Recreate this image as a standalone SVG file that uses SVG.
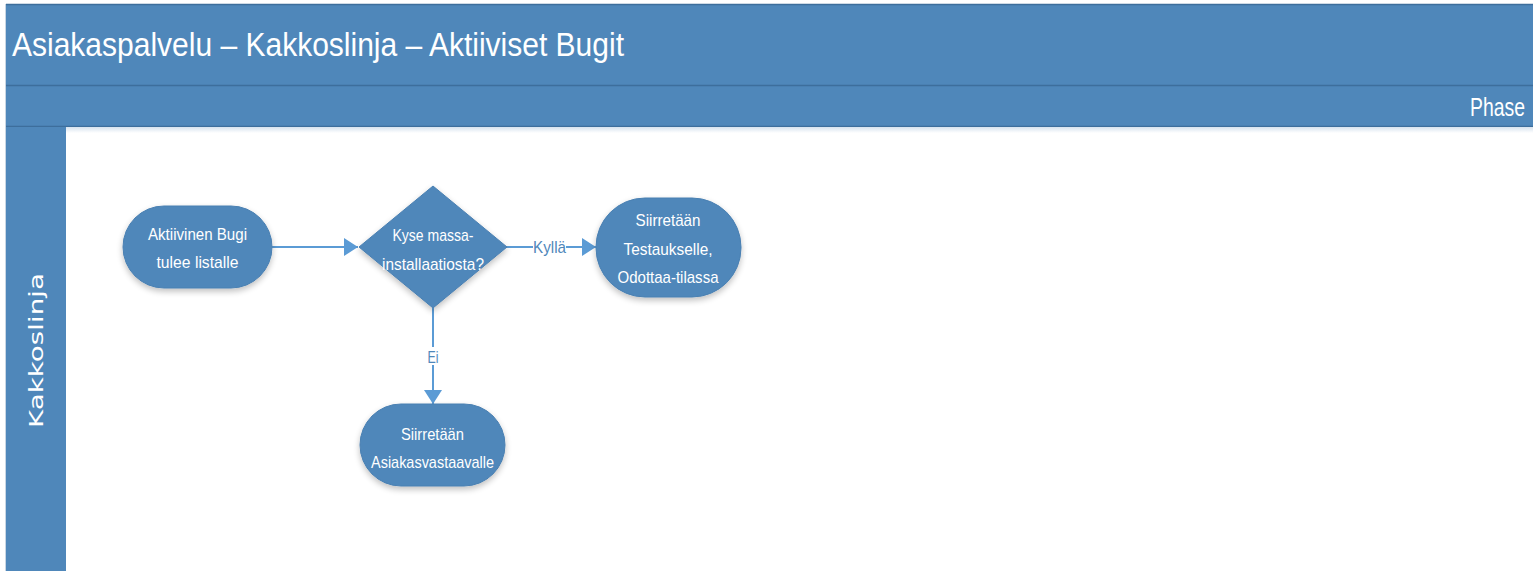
<svg xmlns="http://www.w3.org/2000/svg" width="1533" height="571" viewBox="0 0 1533 571">
  <style>
    .band { fill: #4f87ba; }
    .rule { stroke: #3d6e9c; stroke-width: 1.5; fill: none; }
    .shape { fill: #4f87ba; stroke: #4a80b2; stroke-width: 1; filter: url(#shadow); }
    .label { font-family: "Liberation Sans", Arial, sans-serif; font-size: 17px; fill: #ffffff; text-anchor: middle; }
    .edge { stroke: #5b9bd5; stroke-width: 2; fill: none; marker-end: url(#arrow); }
    .edge-label { font-family: "Liberation Sans", Arial, sans-serif; font-size: 17px; fill: #4f87ba; text-anchor: middle; }
  </style>
  <defs>
    <marker id="arrow" viewBox="0 0 14 18" refX="14" refY="9" markerWidth="14" markerHeight="18" markerUnits="userSpaceOnUse" orient="auto">
      <path d="M0,0 L14,9 L0,18 Z" fill="#5b9bd5"/>
    </marker>
    <filter id="shadow" x="-20%" y="-20%" width="140%" height="150%">
      <feGaussianBlur in="SourceAlpha" stdDeviation="3"/>
      <feOffset dx="0" dy="3" result="blur"/>
      <feComponentTransfer><feFuncA type="linear" slope="0.25"/></feComponentTransfer>
      <feMerge><feMergeNode/><feMergeNode in="SourceGraphic"/></feMerge>
    </filter>
    <linearGradient id="laneShade" x1="0" y1="0" x2="0" y2="1">
      <stop offset="0" stop-color="#d6e2ee"/>
      <stop offset="1" stop-color="#ffffff"/>
    </linearGradient>
  </defs>

  <rect width="1533" height="571" fill="#ffffff"/>

  <!-- pool frame: title band, phase band and the single lane -->
  <g id="pool">
    <rect class="band" x="6" y="4" width="1527" height="82"/>
    <rect class="band" x="6" y="86" width="1527" height="41"/>
    <line class="rule" x1="6" y1="4.5" x2="1533" y2="4.5"/>
    <line class="rule" x1="6" y1="85.5" x2="1533" y2="85.5"/>
    <line class="rule" x1="6" y1="126.5" x2="1533" y2="126.5"/>
    <rect x="66" y="127" width="1467" height="6" fill="url(#laneShade)"/>
    <rect class="band" x="6" y="127" width="60" height="444"/>
    <line x1="5.5" y1="4" x2="5.5" y2="571" stroke="#c9d6e3" stroke-width="1"/>
    <text x="12" y="56" font-family="Liberation Sans, Arial, sans-serif" font-size="34" fill="#ffffff" textLength="612" lengthAdjust="spacingAndGlyphs">Asiakaspalvelu – Kakkoslinja – Aktiiviset Bugit</text>
    <text x="1525" y="116" font-family="Liberation Sans, Arial, sans-serif" font-size="25" fill="#ffffff" text-anchor="end" textLength="55" lengthAdjust="spacingAndGlyphs">Phase</text>
    <text transform="translate(43,350.5) rotate(-90)" font-family="DejaVu Sans, sans-serif" font-size="20" fill="#ffffff" text-anchor="middle" textLength="155" lengthAdjust="spacingAndGlyphs">Kakkoslinja</text>
  </g>

  <!-- connectors -->
  <g id="connectors">
    <line class="edge" x1="272" y1="247" x2="358" y2="247"/>
    <line class="edge" x1="506" y1="247" x2="596" y2="247"/>
    <line class="edge" x1="433" y1="308" x2="433" y2="404"/>
    <rect x="533" y="238" width="33" height="18" fill="#ffffff"/>
    <text class="edge-label" x="549.5" y="253" textLength="33" lengthAdjust="spacingAndGlyphs">Kyllä</text>
    <rect x="426" y="347" width="14" height="18" fill="#ffffff"/>
    <text class="edge-label" x="433" y="363" textLength="11" lengthAdjust="spacingAndGlyphs">Ei</text>
  </g>

  <g id="start">
    <rect class="shape" x="123" y="206" width="149" height="82" rx="41"/>
    <text class="label" x="197.5" y="240" textLength="99" lengthAdjust="spacingAndGlyphs">Aktiivinen Bugi</text>
    <text class="label" x="197.5" y="268" textLength="82" lengthAdjust="spacingAndGlyphs">tulee listalle</text>
  </g>

  <g id="decision">
    <path class="shape" d="M433,186 L507,247 L433,308 L359,247 Z"/>
    <text class="label" x="433" y="241" textLength="81" lengthAdjust="spacingAndGlyphs">Kyse massa-</text>
    <text class="label" x="433" y="270" textLength="102" lengthAdjust="spacingAndGlyphs">installaatiosta?</text>
  </g>

  <g id="to-testing">
    <rect class="shape" x="596" y="198" width="145" height="99" rx="49"/>
    <text class="label" x="668" y="226" textLength="65" lengthAdjust="spacingAndGlyphs">Siirretään</text>
    <text class="label" x="668" y="255" textLength="89" lengthAdjust="spacingAndGlyphs">Testaukselle,</text>
    <text class="label" x="668" y="283" textLength="101" lengthAdjust="spacingAndGlyphs">Odottaa-tilassa</text>
  </g>

  <g id="to-account-manager">
    <rect class="shape" x="360" y="404" width="145" height="82" rx="41"/>
    <text class="label" x="432.5" y="440" textLength="63" lengthAdjust="spacingAndGlyphs">Siirretään</text>
    <text class="label" x="432.5" y="468" textLength="123" lengthAdjust="spacingAndGlyphs">Asiakasvastaavalle</text>
  </g>
</svg>
